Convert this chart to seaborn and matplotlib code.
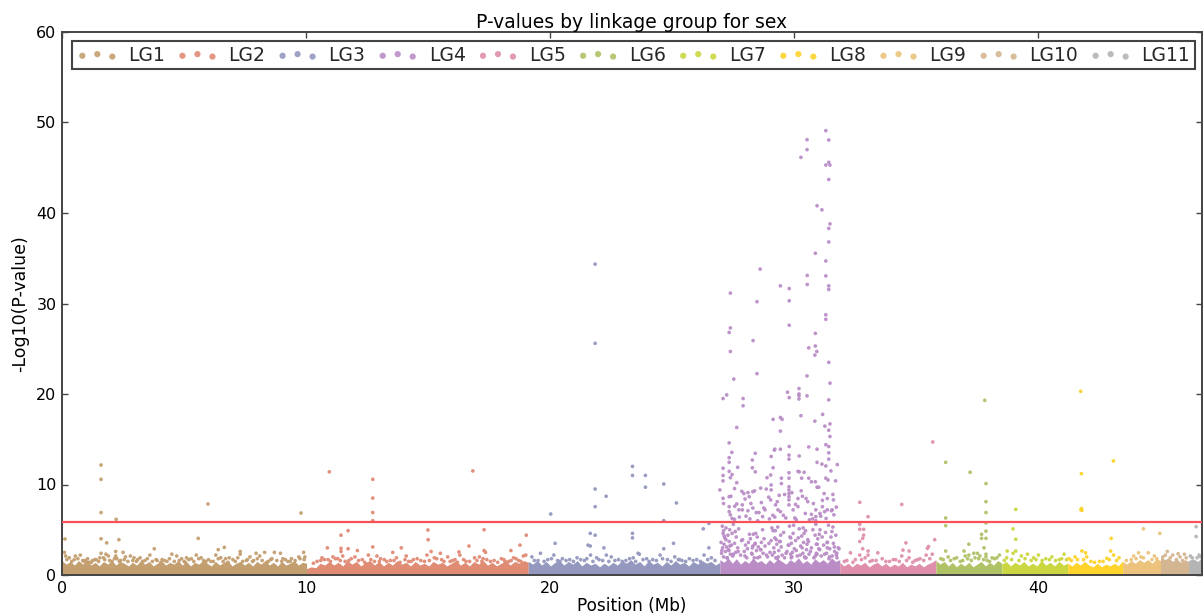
#!/usr/bin/env python3
# -*- coding: utf-8 -*-
import numpy as np
import pandas as pd
import matplotlib
matplotlib.use('Agg')
import matplotlib.pyplot as plt
import seaborn as sns

# %% Data

groups = ['LG1', 'LG2', 'LG3', 'LG4', 'LG5', 'LG6', 'LG7', 'LG8', 'LG9', 'LG10', 'LG11']
colors = ['#C39F70', '#E08B74', '#9498BF', '#BA8DC7', '#DF8FAC', '#AFC266',
          '#CBD740', '#FDD32C', '#EBC37C', '#D3B691', '#B4B4B4']
edges = [0, 10.02, 19.1, 26.95, 31.86, 35.8, 38.5, 41.2, 43.45, 45.0, 46.15, 46.7]
threshold = 5.85

# solid mass of points at the bottom of each group, top edge of the mass
band_lg1 = [1.6, 1.2, 1.5, 1.1, 1.6, 1.2, 1.7, 1.1, 1.4, 1.0, 1.5, 1.2, 1.6, 1.1, 1.5, 1.3, 1.0, 1.4, 1.1, 1.6,
            1.2, 1.5, 1.0, 1.3, 1.6, 1.1, 1.4, 1.2, 1.6, 1.1, 1.5, 1.0, 1.4, 1.2, 1.6, 1.3, 1.0, 1.5, 1.1, 1.4,
            1.6, 1.0, 1.3, 1.5, 1.1, 1.4, 1.0, 1.5, 1.2, 1.6, 1.1, 1.4, 1.0, 1.5, 1.1, 1.3, 1.6, 1.1, 1.4, 1.3]
band_lg2 = [0.7, 0.9, 0.8, 1.3, 1.1, 1.5, 1.1, 1.4, 1.0, 1.6, 1.2, 1.5, 1.0, 1.4, 1.6, 1.1, 1.5, 1.0, 1.4, 1.1,
            1.6, 1.2, 1.4, 1.0, 1.5, 1.1, 1.3, 1.0, 1.5, 1.2, 1.4, 1.0, 1.3, 1.6, 1.1, 1.4, 1.0, 1.5, 1.2, 1.6,
            1.1, 1.4, 1.0, 1.3, 1.6, 1.1, 1.5, 1.3, 1.6, 1.4]
band_lg3 = [1.5, 1.2, 1.6, 1.1, 1.5, 1.0, 1.4, 1.6, 1.1, 1.5, 1.2, 1.6, 1.0, 1.4, 1.1, 1.3, 0.9, 1.3, 1.0, 1.4,
            1.1, 1.6, 1.3, 1.7, 1.2, 1.5, 1.0, 1.6, 1.2, 1.4, 1.0, 1.5, 1.1, 1.6, 1.2, 1.4, 1.0, 1.5, 1.2, 1.6,
            1.3, 1.5, 1.1, 1.4]
band_lg4 = [1.7, 1.4, 1.9, 1.3, 1.8, 1.2, 1.6, 1.3, 1.9, 1.4, 1.6, 1.2, 1.7, 1.3, 1.8, 1.5, 1.2, 1.7, 1.4, 1.9,
            1.3, 1.6, 1.2, 1.8, 1.4, 1.7, 1.3, 1.9, 1.5, 1.7]
band_lg5 = [1.4, 1.0, 1.3, 0.9, 1.3, 1.1, 1.4, 0.9, 1.2, 1.4, 1.0, 1.3, 0.9, 1.2, 1.0, 1.4, 0.9, 1.2, 1.0, 1.3,
            0.9, 1.2, 1.4, 1.7]
band_lg6 = [1.6, 1.2, 1.5, 1.0, 1.4, 0.9, 1.3, 1.0, 1.4, 0.9, 1.2, 1.5, 1.0, 1.4, 1.1, 1.6, 1.3]
band_lg7 = [1.2, 1.5, 1.0, 1.4, 1.1, 1.5, 1.0, 1.3, 1.0, 1.6, 1.1, 1.4, 1.0, 1.5, 1.1, 1.3]
band_lg8 = [1.3, 1.0, 1.4, 1.1, 1.5, 1.1, 0.9, 1.3, 0.9, 1.2, 1.0, 1.3, 1.0, 1.6]
band_lg9 = [1.5, 1.2, 1.6, 1.3, 1.7, 1.4, 1.7, 1.3, 1.8, 1.6]
band_lg10 = [2.1, 1.7, 1.9, 1.5, 1.8, 1.4, 1.7, 1.5]
band_lg11 = [1.6, 1.8, 1.5, 1.9]
bands = [band_lg1, band_lg2, band_lg3, band_lg4, band_lg5, band_lg6, band_lg7, band_lg8, band_lg9, band_lg10, band_lg11]

# single points standing clear of the mass
lg1_x = [1.6, 1.6, 1.6, 2.22, 0.12, 1.6, 1.83, 2.33, 5.98, 5.58, 9.79, 3.78, 6.65, 6.4, 2.5, 0.1, 0.15, 0.3, 0.5, 0.55,
         0.75, 0.95, 1.05, 1.25, 1.4, 1.55, 1.6, 1.75, 1.8, 1.9, 2.2, 2.2, 2.25, 2.6, 2.8, 2.95, 3.2, 3.6, 3.9, 4.1,
         4.5, 4.7, 4.9, 5.1, 5.3, 5.5, 5.7, 5.9, 6.3, 6.5, 6.7, 6.85, 7.3, 7.3, 7.55, 7.7, 7.95, 8.1, 8.3, 8.55,
         8.7, 8.95, 9.05, 9.4, 9.7, 9.9, 9.95, 0.9, 1.2, 2.05, 2.4, 3.05, 3.4, 4.3, 5.0, 6.1, 7.1, 7.85, 8.45, 9.25,
         0.2, 0.4, 0.65, 0.85, 1.1, 1.35, 1.5, 1.7, 1.95, 2.15, 2.35, 2.55, 2.7, 2.9, 3.1, 3.3, 3.5, 3.7, 3.85, 4.05,
         4.2, 4.4, 4.6, 4.8, 5.05, 5.2, 5.4, 5.6, 5.8, 6.0, 6.2, 6.4, 6.6, 6.8, 7.0, 7.2, 7.4, 7.6, 7.8, 8.0,
         8.2, 8.4, 8.6, 8.8, 9.0, 9.15, 9.35, 9.55, 9.75, 9.92]
lg1_y = [12.15, 10.57, 6.9, 6.15, 3.98, 4.0, 3.55, 3.9, 7.85, 4.05, 6.85, 2.9, 3.05, 2.8, 2.5, 2.5, 2.1, 1.9, 1.7, 2.1,
         2.2, 1.6, 1.8, 1.6, 1.7, 1.9, 2.4, 1.7, 2.3, 2.1, 2.6, 2.1, 1.8, 2.0, 2.1, 1.9, 1.9, 2.2, 1.6, 1.7,
         2.3, 2.1, 1.8, 1.9, 1.8, 2.2, 1.9, 1.5, 2.2, 1.9, 1.8, 1.9, 2.6, 2.3, 1.6, 2.0, 2.4, 2.1, 2.5, 1.7,
         2.5, 2.4, 1.8, 1.8, 2.0, 2.5, 2.0, 1.5, 1.4, 1.5, 1.6, 1.5, 1.6, 1.5, 1.5, 1.5, 1.5, 1.6, 1.5, 1.5,
         1.7, 1.5, 1.8, 1.6, 1.4, 1.7, 1.5, 1.9, 1.6, 1.8, 1.5, 1.7, 1.5, 1.6, 1.7, 1.5, 1.8, 1.5, 1.7, 1.4,
         1.6, 1.8, 1.5, 1.6, 1.4, 1.7, 1.5, 1.8, 1.6, 1.7, 1.5, 1.8, 1.5, 1.4, 1.7, 1.9, 1.5, 1.7, 1.5, 1.8,
         1.6, 1.4, 1.8, 1.6, 1.5, 1.7, 1.5, 1.6, 1.8, 1.7]

lg2_x = [10.95, 12.73, 12.73, 12.73, 12.73, 12.73, 11.72, 11.43, 10.87, 11.43, 11.43, 11.72, 12.1, 16.83, 14.99, 15.0,
         17.29, 19.02, 18.76, 16.67, 17.29, 17.35, 18.39, 16.26, 15.12, 15.5, 13.9, 13.55, 10.3, 10.6, 10.65, 10.9, 11.1,
         11.3, 11.5, 11.75, 12.0, 12.3, 12.55, 12.9, 13.2, 13.45, 13.7, 14.1, 14.4, 14.7, 14.95, 15.25, 15.55, 15.8,
         16.1, 16.3, 16.55, 16.9, 17.1, 17.4, 17.7, 18.0, 18.3, 18.5, 18.7, 18.9, 19.0, 13.0, 14.2, 15.9, 17.2, 18.15,
         10.45, 10.75, 11.0, 11.2, 11.4, 11.6, 11.85, 12.15, 12.4, 12.65, 12.8, 13.05, 13.3, 13.6, 13.85, 14.05, 14.3,
         14.55, 14.85, 15.05, 15.35, 15.65, 16.0, 16.2, 16.45, 16.7, 17.0, 17.25, 17.55, 17.85, 18.1, 18.4, 18.6, 18.8]
lg2_y = [11.4, 10.57, 8.5, 6.9, 6.0, 3.1, 4.9, 4.4, 3.0, 2.95, 2.6, 2.9, 2.7, 11.5, 4.97, 3.9,
         5.0, 4.4, 3.3, 3.2, 2.7, 2.5, 2.7, 2.55, 2.6, 2.4, 3.0, 2.5, 1.3, 1.6, 1.9, 1.7, 2.0,
         1.8, 2.1, 1.6, 2.0, 1.7, 2.2, 2.1, 1.7, 1.6, 1.9, 2.1, 1.7, 1.6, 2.2, 1.9, 1.7, 2.0,
         1.7, 2.2, 1.5, 1.9, 2.0, 1.7, 1.6, 1.8, 1.5, 1.9, 1.6, 2.1, 2.2, 1.5, 1.5, 1.5, 1.5, 1.5,
         1.5, 1.7, 1.5, 1.8, 1.6, 1.5, 1.8, 1.6, 1.4, 1.7, 1.5, 1.8, 1.5, 1.6, 1.4, 1.7, 1.5,
         1.8, 1.5, 1.6, 1.8, 1.5, 1.6, 1.4, 1.7, 1.5, 1.6, 1.8, 1.5, 1.4, 1.7, 1.6, 1.8, 1.5]

lg3_x = [21.84, 21.84, 20.02, 21.84, 21.84, 22.29, 23.37, 23.37, 23.9, 23.9, 24.65, 25.17, 24.65, 26.5, 26.27, 21.84,
         21.64, 23.37, 23.37, 20.2, 21.55, 21.64, 22.2, 24.65, 25.05, 26.5, 19.25, 19.6, 19.9, 20.15, 20.5, 20.8, 21.1,
         21.4, 21.65, 21.9, 22.15, 22.5, 22.8, 23.1, 23.4, 23.65, 23.95, 24.2, 24.5, 24.8, 25.1, 25.4, 25.7, 26.0,
         26.3, 26.6, 19.5, 20.3, 22.3, 23.6, 25.25, 19.35, 19.75, 20.05, 20.4, 20.65, 20.95, 21.25, 21.5, 21.75, 22.0,
         22.4, 22.65, 22.95, 23.25, 23.5, 23.8, 24.05, 24.35, 24.6, 24.95, 25.3, 25.55, 25.85, 26.15, 26.45, 26.75]
lg3_y = [34.35, 25.6, 6.74, 9.5, 7.55, 8.7, 12.0, 11.0, 11.0, 9.7, 10.05, 7.96, 6.0, 5.7, 5.1, 4.4,
         4.6, 4.6, 4.1, 3.5, 3.3, 3.2, 3.0, 2.9, 3.5, 3.0, 2.0, 2.4, 1.7, 2.2, 1.8, 1.7, 1.9,
         1.6, 2.2, 1.9, 1.6, 2.0, 1.7, 1.6, 1.9, 2.3, 1.8, 1.7, 2.2, 1.7, 2.0, 1.6, 1.8, 1.7,
         2.2, 1.9, 1.6, 1.6, 2.2, 2.4, 1.7, 1.6, 1.5, 1.8, 1.5, 1.6, 1.5, 1.7, 1.8, 1.5, 1.7,
         1.5, 1.6, 1.5, 1.8, 1.5, 1.7, 1.5, 1.6, 1.8, 1.5, 1.7, 1.5, 1.6, 1.5, 1.7, 1.6]

lg4_x = [31.29, 30.52, 31.41, 30.52, 30.27, 31.41, 31.29, 31.46, 31.41, 30.93, 31.13, 31.46, 31.41, 31.41, 30.86, 31.29,
         28.6, 30.53, 31.29, 30.53, 31.41, 29.43, 29.79, 31.41, 27.38, 28.47, 29.79, 31.29, 31.29, 29.79, 27.38, 27.33,
         30.86, 28.31, 30.86, 30.59, 30.92, 27.38, 30.84, 31.41, 28.47, 30.52, 27.52, 31.46, 30.19, 29.72, 27.23, 30.19,
         30.19, 30.19, 30.52, 27.08, 27.9, 29.79, 31.41, 27.9, 31.16, 30.27, 29.43, 29.13, 29.5, 30.84, 31.46, 31.25,
         27.64, 31.41, 29.43, 31.46, 27.33, 31.29, 29.79, 30.59, 31.41, 30.93, 29.43, 29.2,
         # y 6 to 14
         27.44, 27.33, 27.33, 27.08, 27.68, 27.33, 27.08, 27.45, 27.08, 27.38, 27.64, 26.95, 27.55, 27.85, 27.93, 28.1,
         28.15, 28.3, 28.37, 28.62, 28.4, 28.28, 28.28, 28.4, 29.05, 29.18, 29.78, 29.78, 30.2, 29.13, 28.88, 29.03,
         29.05, 29.05, 29.47, 29.47, 29.78, 29.78, 29.78, 29.78, 29.78, 29.78, 29.78, 30.15, 30.2, 30.4, 30.59, 30.3,
         30.7, 30.86, 30.93, 31.0, 30.93, 31.13, 31.29, 31.41, 31.41, 31.76, 31.5, 31.29, 31.38, 31.69, 27.08, 27.1,
         27.33, 27.4, 27.33, 27.33, 27.38, 27.45, 27.55, 27.64, 27.56, 27.73, 27.87, 27.87, 28.1, 28.3, 28.65, 28.8,
         28.5, 28.7, 29.03, 29.23, 29.33, 29.43, 29.2, 29.78, 29.95, 30.15, 30.15, 30.48, 30.55, 30.88, 30.88, 31.15,
         31.15, 31.35, 31.35, 31.55, 31.62, 31.3, 30.88, 29.6, 30.05, 30.7, 28.95,
         28.02, 28.22, 28.55, 28.75, 28.98, 29.3, 29.55, 29.9, 30.02, 30.33, 30.62, 30.78, 31.05, 31.22, 31.52, 31.6,
         27.75, 27.98, 28.18, 28.44, 28.85, 29.12, 29.38, 29.65, 30.08, 30.28, 30.45, 30.75, 31.08, 31.24, 31.58, 31.72,
         # y below the threshold
         27.0, 27.02, 27.05, 27.06, 27.08, 27.1, 27.12, 27.15, 27.18, 27.2, 27.22, 27.25, 27.28, 27.3, 27.33, 27.35,
         27.38, 27.42, 27.45, 27.48, 27.5, 27.55, 27.6, 27.62, 27.68, 27.72, 27.8, 27.88, 27.95, 28.0, 28.05, 28.12,
         28.2, 28.25, 28.28, 28.32, 28.36, 28.4, 28.45, 28.48, 28.52, 28.58, 28.65, 28.7, 28.72, 28.8, 28.9, 29.0,
         29.05, 29.1, 29.13, 29.16, 29.2, 29.24, 29.28, 29.32, 29.36, 29.4, 29.44, 29.5, 29.6, 29.7, 29.75, 29.8,
         29.82, 29.85, 29.88, 29.9, 29.95, 30.0, 30.05, 30.12, 30.2, 30.26, 30.3, 30.35, 30.38, 30.42, 30.46, 30.5,
         30.55, 30.6, 30.7, 30.8, 30.85, 30.88, 30.9, 30.93, 30.96, 31.0, 31.05, 31.1, 31.2, 31.28, 31.32, 31.36,
         31.4, 31.45, 31.5, 31.55, 31.6, 31.65, 31.7, 31.75, 31.8, 27.1, 27.2, 27.32, 27.5, 28.3, 28.42, 28.62,
         29.22, 29.3, 29.42, 29.85, 29.92, 30.36, 30.44, 30.52, 30.9, 31.02, 31.35, 31.42, 31.58, 31.72,
         27.03, 27.13, 27.24, 27.36, 27.46, 27.58, 27.7, 27.84, 27.98, 28.08, 28.16, 28.27, 28.38, 28.5, 28.62, 28.76,
         28.86, 28.96, 29.08, 29.18, 29.26, 29.34, 29.46, 29.56, 29.66, 29.78, 29.87, 29.97, 30.08, 30.16, 30.24, 30.32,
         30.4, 30.48, 30.58, 30.66, 30.76, 30.86, 30.94, 31.04, 31.14, 31.24, 31.34, 31.44, 31.54, 31.64, 31.74, 31.83]
lg4_y = [49.1, 48.1, 48.07, 47.0, 46.15, 45.6, 45.3, 45.3, 43.7, 40.8, 40.35, 38.8, 38.3, 36.8, 35.55, 34.7,
         33.8, 33.1, 33.05, 32.1, 31.95, 31.95, 31.65, 31.55, 31.15, 30.2, 30.3, 28.75, 28.25, 27.6, 27.3, 26.8,
         26.7, 25.9, 25.3, 25.1, 24.7, 24.7, 24.3, 23.5, 22.25, 22.0, 21.65, 21.2, 20.6, 20.2, 19.9, 20.0,
         19.8, 19.45, 19.8, 19.5, 19.5, 19.6, 19.35, 18.7, 17.75, 17.6, 17.4, 17.2, 17.2, 17.0, 16.7, 16.45,
         16.3, 16.0, 15.9, 15.3, 14.6, 14.4, 14.2, 14.15, 14.2, 13.9, 13.9, 13.9,
         # y 6 to 14
         13.55, 12.96, 12.45, 11.8, 11.9, 11.45, 11.0, 11.1, 10.4, 10.75, 10.2, 9.4, 9.55, 9.25, 9.0, 9.1,
         8.65, 9.2, 9.3, 9.6, 13.45, 12.7, 11.85, 11.4, 13.1, 13.8, 13.25, 12.8, 13.15, 11.85, 10.75, 11.05,
         9.95, 9.4, 10.7, 10.1, 11.3, 10.7, 9.75, 9.4, 9.0, 8.65, 8.3, 11.45, 11.4, 11.35, 10.7, 10.7,
         10.3, 10.3, 9.7, 9.7, 12.45, 12.25, 12.05, 12.8, 13.5, 12.2, 11.5, 10.7, 10.5, 10.4, 8.47, 7.9,
         8.65, 8.7, 7.55, 7.0, 6.65, 6.25, 6.15, 7.85, 7.6, 7.2, 7.75, 7.2, 7.1, 7.4, 8.0, 7.2,
         6.0, 6.45, 8.3, 7.75, 7.2, 7.0, 6.4, 7.75, 7.2, 7.55, 8.45, 8.45, 8.1, 7.2, 6.45, 8.25,
         7.55, 8.45, 7.2, 7.2, 6.65, 6.25, 6.0, 8.9, 7.8, 6.7, 8.6,
         6.5, 7.9, 6.9, 7.4, 6.2, 8.1, 6.6, 9.1, 6.3, 8.7, 6.1, 7.9, 6.8, 9.0, 7.1, 8.3,
         6.4, 8.4, 6.2, 6.9, 9.5, 6.6, 8.8, 6.3, 6.1, 9.3, 6.8, 6.2, 6.5, 7.0, 8.9, 7.5,
         # y below the threshold
         3.6, 2.4, 5.4, 3.0, 4.6, 2.0, 3.4, 4.1, 2.6, 5.2, 3.1, 1.9, 4.4, 2.8, 3.7, 5.0,
         2.3, 3.3, 4.6, 2.1, 5.6, 3.5, 2.5, 4.2, 3.0, 5.1, 2.2, 3.9, 2.6, 3.3, 1.9, 3.6,
         4.0, 2.4, 3.0, 4.5, 1.9, 3.5, 2.7, 4.2, 3.1, 2.0, 3.6, 5.0, 2.4, 3.2, 2.0, 2.5,
         3.8, 2.2, 4.9, 3.0, 4.1, 1.9, 3.4, 5.3, 2.7, 3.7, 4.4, 2.2, 1.9, 2.6, 3.3, 5.4,
         4.2, 2.3, 3.5, 2.0, 4.6, 2.9, 3.8, 2.1, 5.1, 3.2, 4.3, 2.4, 3.6, 2.0, 4.9, 2.8,
         3.9, 2.3, 3.0, 1.9, 4.4, 5.6, 3.4, 2.3, 4.0, 2.9, 5.0, 2.1, 3.3, 4.7, 2.4, 3.6,
         5.5, 2.9, 4.2, 2.1, 3.5, 2.6, 4.4, 1.9, 3.0, 4.9, 3.9, 2.7, 2.3, 3.2, 4.6, 2.8,
         4.9, 1.8, 3.7, 4.1, 2.5, 5.2, 1.9, 3.4, 2.4, 4.5, 3.0, 1.8, 5.3, 2.2,
         2.7, 4.3, 1.9, 3.2, 2.2, 4.8, 2.6, 3.8, 2.1, 2.9, 4.5, 2.3, 3.4, 1.9, 2.8, 4.0,
         2.2, 3.5, 5.2, 2.5, 3.9, 2.0, 3.1, 4.7, 2.4, 3.3, 1.9, 5.5, 2.7, 4.1, 2.2, 3.0,
         4.6, 1.9, 3.7, 2.6, 5.0, 2.1, 3.4, 2.8, 4.2, 2.3, 3.6, 2.0, 4.8, 3.1, 2.4, 2.9]

lg5_x = [32.68, 33.02, 34.4, 35.67, 32.68, 32.68, 32.84, 32.84, 32.8, 32.68, 32.8, 34.57, 35.75, 35.5, 35.45, 34.45, 34.7,
         33.02, 33.42, 32.68, 32.3, 33.02, 32.05, 32.5, 32.9, 33.2, 33.6, 33.9, 34.15, 34.4, 34.7, 34.95, 35.15, 35.4, 35.65,
         32.15, 32.4, 32.75, 33.1, 33.35, 33.75, 34.05, 34.3, 34.6, 34.85, 35.05, 35.3, 35.55]
lg5_y = [8.03, 6.44, 7.8, 14.7, 5.6, 5.05, 5.05, 4.4, 4.05, 3.7, 2.9, 3.55, 3.9, 3.15, 2.95, 2.75, 2.65,
         2.65, 2.45, 2.2, 2.45, 2.2, 1.5, 1.7, 1.9, 1.6, 1.8, 1.5, 1.7, 2.1, 1.9, 1.6, 1.8, 2.2, 2.3,
         1.6, 1.4, 1.7, 1.5, 1.6, 1.5, 1.7, 1.5, 1.6, 1.4, 1.7, 1.6, 1.8]

lg6_x = [37.8, 36.2, 37.2, 37.85, 37.85, 37.85, 37.85, 36.2, 36.2, 37.85, 37.67, 37.85, 37.67, 37.15, 36.95, 36.2, 37.77,
         37.35, 37.5, 37.15, 37.85, 37.85, 36.0, 36.4, 36.65, 36.9, 37.1, 37.4, 37.6, 37.9, 38.1, 38.3,
         36.1, 36.3, 36.55, 36.8, 37.0, 37.25, 37.55, 37.75, 38.0, 38.2, 38.4]
lg6_y = [19.3, 12.45, 11.35, 10.1, 8.1, 6.9, 5.75, 6.3, 5.45, 4.85, 4.5, 4.05, 4.05, 3.4, 2.65, 2.65, 3.0,
         2.4, 2.4, 2.2, 2.3, 2.0, 1.8, 1.6, 1.9, 1.6, 1.8, 1.9, 2.1, 1.6, 1.9, 1.9,
         1.7, 2.0, 1.8, 1.5, 2.1, 1.6, 1.8, 1.7, 1.5, 1.8, 2.2]

lg7_x = [39.07, 38.96, 39.07, 38.72, 39.07, 38.96, 38.7, 39.3, 39.55, 39.8, 40.0, 40.3, 40.55, 40.85, 41.05, 38.9,
         38.6, 39.2, 39.45, 39.7, 39.9, 40.15, 40.45, 40.7, 40.95, 41.15]
lg7_y = [7.25, 5.1, 3.95, 2.65, 2.65, 2.4, 1.9, 2.1, 2.3, 1.9, 2.2, 1.8, 2.0, 1.7, 2.3, 1.7,
         1.6, 1.6, 1.8, 1.6, 1.7, 1.6, 1.7, 1.6, 1.8, 1.7]

lg8_x = [41.73, 41.76, 43.07, 41.76, 41.78, 41.74, 42.98, 41.78, 42.96, 42.8, 43.08, 41.93, 41.98, 41.25, 41.6, 42.15, 42.5, 43.2,
         41.35, 41.5, 41.85, 42.3, 42.65, 42.9, 43.3]
lg8_y = [20.3, 11.2, 12.6, 7.35, 7.15, 7.2, 4.05, 2.65, 2.65, 1.85, 2.2, 2.45, 2.0, 1.8, 1.7, 1.5, 1.5, 1.6,
         1.6, 2.0, 1.7, 1.4, 1.5, 1.7, 1.9]

lg9_x = [44.3, 44.97, 43.9, 44.1, 44.5, 44.0, 44.3, 44.65, 44.85, 43.6, 43.8, 44.2, 44.75]
lg9_y = [5.1, 4.6, 2.1, 2.45, 2.45, 1.8, 1.9, 1.7, 1.8, 1.6, 1.7, 2.0, 2.1]

lg10_x = [45.28, 45.5, 45.72, 45.98, 45.1, 45.4, 45.65, 45.9, 46.05, 45.2, 45.8]
lg10_y = [2.6, 2.2, 2.35, 2.3, 2.0, 1.9, 1.7, 1.6, 1.9, 2.2, 2.0]

lg11_x = [46.46, 46.46, 46.58, 46.3, 46.22, 46.5, 46.65]
lg11_y = [5.34, 4.25, 2.2, 1.9, 2.1, 1.9, 2.0]

all_x = [lg1_x, lg2_x, lg3_x, lg4_x, lg5_x, lg6_x, lg7_x, lg8_x, lg9_x, lg10_x, lg11_x]
all_y = [lg1_y, lg2_y, lg3_y, lg4_y, lg5_y, lg6_y, lg7_y, lg8_y, lg9_y, lg10_y, lg11_y]

# %% Plot

sns.set_theme(style='ticks')
plt.rcParams['font.family'] = ['DejaVu Sans']

df = pd.concat(
    [pd.DataFrame({'pos': x, 'logp': y, 'lg': g}) for g, x, y in zip(groups, all_x, all_y)],
    ignore_index=True
)
palette = dict(zip(groups, colors))

fig = plt.figure(figsize=(12.04, 6.16), dpi=100)
ax = fig.add_axes([62 / 1204, 1 - 575 / 616, 1140 / 1204, 543 / 616])

# Solid mass at the bottom
for i, g in enumerate(groups):
    band_x = np.linspace(edges[i], edges[i + 1], len(bands[i]))
    ax.fill_between(band_x, 0, bands[i], color=colors[i], linewidth=0, zorder=1)

sns.scatterplot(data=df, x='pos', y='logp', hue='lg', palette=palette, s=7,
                linewidth=0, alpha=0.95, legend=False, ax=ax, zorder=2)

ax.axhline(threshold, color='#FA5058', lw=1.6, zorder=3)

ax.set_xlim(0, 46.7)
ax.set_ylim(0, 60)
ax.set_xticks([0, 10, 20, 30, 40])
ax.set_yticks([0, 10, 20, 30, 40, 50, 60])
ax.tick_params(direction='in', length=4, width=1, top=True, right=True,
               labelsize=11.5, pad=4, color='#444444', labelcolor='black')
for spine in ax.spines.values():
    spine.set_linewidth(1.4)
    spine.set_color('#444444')

ax.set_xlabel('Position (Mb)', fontsize=12.2, labelpad=1, color='black')
ax.set_ylabel('-Log10(P-value)', fontsize=12.5, labelpad=5, color='black')
ax.set_title('P-values by linkage group for sex', fontsize=13.5, pad=3, color='black')

# Legend with three dots per entry
handles = [ax.scatter([], [], s=20, color=c, linewidth=0, alpha=0.9, label=g)
           for g, c in zip(groups, colors)]
leg = ax.legend(handles=handles, ncol=11, scatterpoints=3, mode='expand', loc='upper left',
                bbox_to_anchor=(10 / 1140, 1 - 38 / 543, 1123 / 1140, 29 / 543), borderaxespad=0,
                fontsize=13.5, handlelength=2.2, handletextpad=0.55, columnspacing=0.5,
                borderpad=0.25, fancybox=False, framealpha=1)
leg.get_frame().set_edgecolor('#444444')
leg.get_frame().set_linewidth(1.5)

fig.savefig('out.png', dpi=100)
